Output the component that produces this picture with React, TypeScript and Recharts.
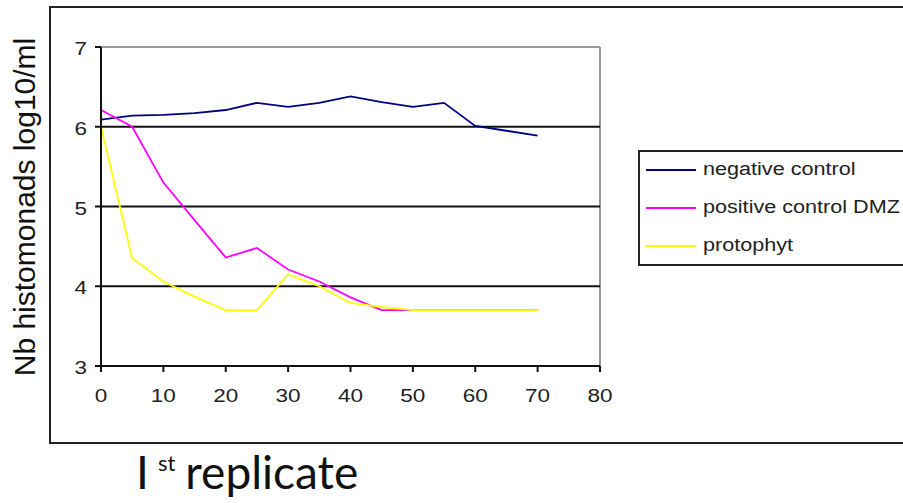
import { LineChart, Line, XAxis, YAxis, ReferenceLine } from 'recharts';

const days = [0, 5, 10, 15, 20, 25, 30, 35, 40, 45, 50, 55, 60, 65, 70];
const negativeControl = [6.09, 6.14, 6.15, 6.17, 6.21, 6.3, 6.25, 6.3, 6.38, 6.31, 6.25, 6.3, 6.01, 5.95, 5.89];
const positiveControl = [6.21, 6.0, 5.3, 4.83, 4.36, 4.48, 4.21, 4.06, 3.86, 3.7, 3.7, 3.7, 3.7, 3.7, 3.7];
const protophyt = [6.0, 4.35, 4.06, 3.87, 3.7, 3.7, 4.15, 4.0, 3.79, 3.74, 3.7, 3.7, 3.7, 3.7, 3.7];
const xTicks = [0, 10, 20, 30, 40, 50, 60, 70, 80];
const yTicks = [3, 4, 5, 6, 7];

const series = [
  { key: 'neg', name: 'negative control', color: '#000080' },
  { key: 'pos', name: 'positive control DMZ', color: '#ff00ff' },
  { key: 'proto', name: 'protophyt', color: '#ffff00' },
];

const data = days.map((d, i) => ({
  day: d,
  neg: negativeControl[i],
  pos: positiveControl[i],
  proto: protophyt[i],
}));

const font = '"Liberation Sans", Arial, sans-serif';

// the reference text is a bit stretched sideways
function XTick({ x, y, payload }: any) {
  return (
    <text transform={`translate(${x},${y + 28}) scale(1.25,1)`} textAnchor="middle" fontSize={18} fontFamily={font} fill="#222">
      {payload.value}
    </text>
  );
}

function YTick({ x, y, payload }: any) {
  return (
    <text transform={`translate(${x - 6},${y + 8}) scale(1.25,1)`} textAnchor="end" fontSize={18} fontFamily={font} fill="#222">
      {payload.value}
    </text>
  );
}

export default function App() {
  return (
    <div style={{ position: 'absolute', left: 0, top: 0, width: 903, height: 503, background: '#fff', overflow: 'hidden' }}>
      {/* outer frame */}
      <div style={{ position: 'absolute', left: 49, top: 6, width: 900, height: 434, border: '2px solid #222' }} />

      <div style={{ position: 'absolute', left: 0, top: 0 }}>
        <LineChart width={903} height={503} data={data} margin={{ top: 47, right: 303, bottom: 107, left: 41 }}>
          <XAxis
            dataKey="day"
            type="number"
            domain={[0, 80]}
            ticks={xTicks}
            interval={0}
            height={30}
            tick={<XTick />}
            tickLine={{ stroke: '#111', strokeWidth: 2 }}
            axisLine={{ stroke: '#111', strokeWidth: 2 }}
            tickSize={6}
          />
          <YAxis
            type="number"
            domain={[3, 7]}
            ticks={yTicks}
            interval={0}
            width={60}
            tick={<YTick />}
            tickLine={{ stroke: '#111', strokeWidth: 2 }}
            axisLine={{ stroke: '#111', strokeWidth: 2 }}
            tickSize={6}
          />
          <ReferenceLine y={7} stroke="#999" strokeWidth={2} />
          <ReferenceLine x={80} stroke="#999" strokeWidth={2} />
          <ReferenceLine y={4} stroke="#111" strokeWidth={2} />
          <ReferenceLine y={5} stroke="#111" strokeWidth={2} />
          <ReferenceLine y={6} stroke="#111" strokeWidth={2} />
          {series.map((s) => (
            <Line
              key={s.key}
              dataKey={s.key}
              name={s.name}
              type="linear"
              stroke={s.color}
              strokeWidth={1.8}
              dot={false}
              isAnimationActive={false}
            />
          ))}
        </LineChart>
      </div>

      {/* y axis title */}
      <div
        style={{
          position: 'absolute',
          left: 25,
          top: 207,
          transform: 'translate(-50%, -50%) rotate(-90deg)',
          whiteSpace: 'nowrap',
          fontFamily: font,
          fontSize: 30,
          color: '#111',
        }}
      >
        Nb histomonads log10/ml
      </div>

      {/* legend */}
      <div
        style={{
          position: 'absolute',
          left: 638,
          top: 150,
          width: 300,
          height: 112,
          border: '2px solid #222',
          fontFamily: font,
          fontSize: 18,
          color: '#222',
        }}
      >
        {series.map((s, i) => (
          <div key={s.key} style={{ position: 'absolute', left: 6, top: 7 + i * 38, display: 'flex', alignItems: 'center', whiteSpace: 'nowrap' }}>
            <span style={{ display: 'inline-block', width: 50, height: 2, background: s.color, marginRight: 7 }} />
            <span style={{ display: 'inline-block', transform: 'scaleX(1.2)', transformOrigin: 'left center' }}>{s.name}</span>
          </div>
        ))}
      </div>

      {/* title */}
      <div style={{ position: 'absolute', left: 136, top: 444, fontFamily: 'Lato, "Open Sans", sans-serif', fontSize: 46, color: '#111', whiteSpace: 'nowrap', lineHeight: 1.2 }}>
        I<span style={{ fontSize: 22, verticalAlign: 'top', position: 'relative', top: 6, marginLeft: 9, marginRight: 10 }}>st</span>replicate
      </div>
    </div>
  );
}
